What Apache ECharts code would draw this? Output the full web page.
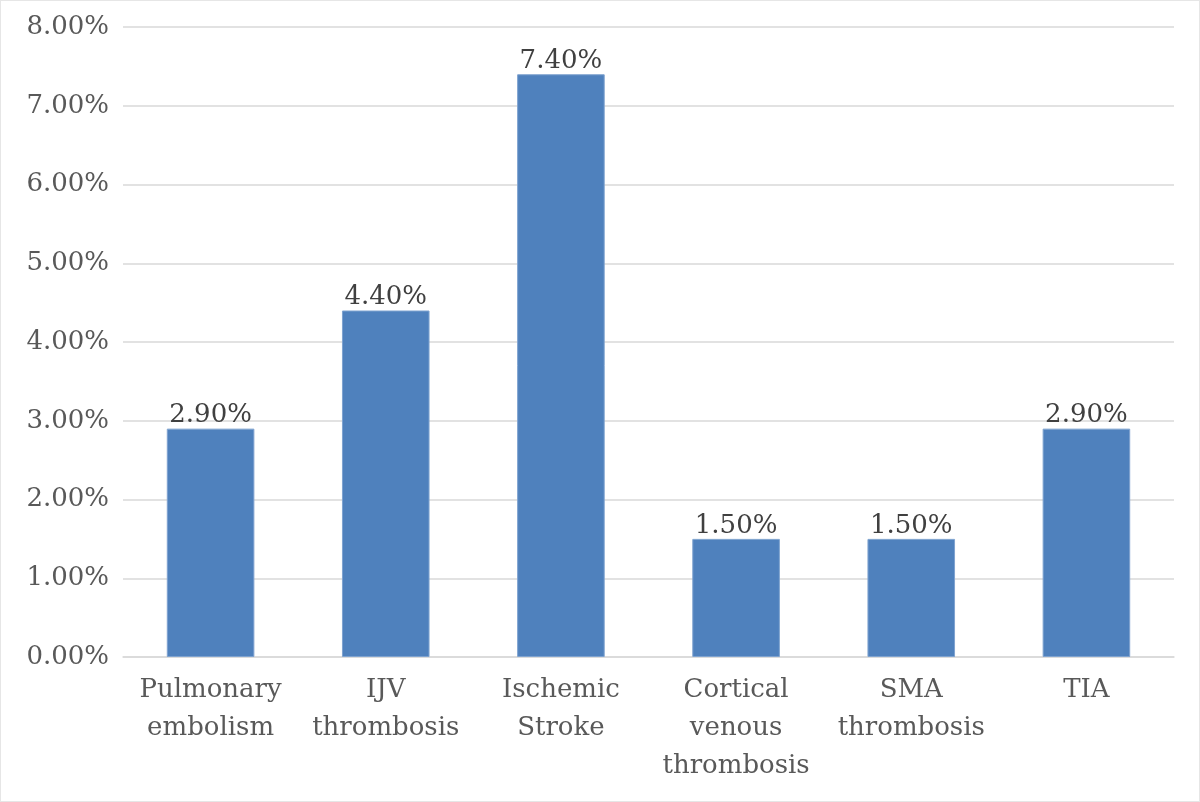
<!DOCTYPE html>
<html><head><meta charset="utf-8">
<script src="https://cdn.jsdelivr.net/npm/echarts@6/dist/echarts.min.js"></script>
<style>html,body{margin:0;padding:0;background:#fff}#c{width:1200px;height:802px;box-sizing:border-box;border:1px solid #e6e6e6}</style>
</head><body><div id="c"></div>
<script>
const categories = ['Pulmonary\nembolism', 'IJV\nthrombosis', 'Ischemic\nStroke', 'Cortical\nvenous\nthrombosis', 'SMA\nthrombosis', 'TIA'];
const values = [2.9, 4.4, 7.4, 1.5, 1.5, 2.9];
const FONT = '"DejaVu Serif", serif';
const chart = echarts.init(document.getElementById('c'));
chart.setOption({
  animation: false,
  grid: {left: 122, right: 25, top: 26, bottom: 144},
  xAxis: {
    type: 'category', data: categories,
    axisLine: {lineStyle: {color: '#d9d9d9', width: 1.5}},
    axisTick: {show: false},
    axisLabel: {color: '#595959', fontFamily: FONT, fontSize: 26, lineHeight: 38, margin: 14, interval: 0}
  },
  yAxis: {
    type: 'value', min: 0, max: 8, interval: 1,
    axisLine: {show: false}, axisTick: {show: false},
    splitLine: {lineStyle: {color: '#d9d9d9', width: 1.5}},
    axisLabel: {color: '#595959', fontFamily: FONT, fontSize: 26, margin: 14,
      formatter: v => v.toFixed(2) + '%'}
  },
  series: [{
    type: 'bar', data: values, barWidth: '50%',
    itemStyle: {color: '#4f81bd', borderColor: '#7fa3d0', borderWidth: 1},
    label: {show: true, position: 'top', distance: 0, color: '#404040', fontFamily: FONT, fontSize: 26,
      formatter: p => p.value.toFixed(2) + '%'}
  }]
});
</script></body></html>
